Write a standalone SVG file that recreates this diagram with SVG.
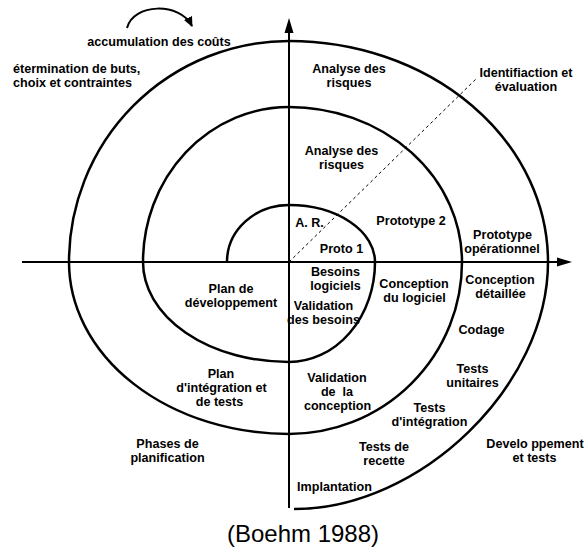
<svg xmlns="http://www.w3.org/2000/svg" width="587" height="549" viewBox="0 0 587 549">
<style>
text{font-family:"Liberation Sans",Arial,sans-serif;font-weight:bold;font-size:12.6px;fill:#000;text-anchor:middle}
.l{text-anchor:start}
.cap{font-weight:normal;font-size:24px}
.ax{stroke:#000;stroke-width:2;fill:none}
.sp{stroke:#000;stroke-width:2.5;fill:none}
.dash{stroke:#000;stroke-width:1;stroke-dasharray:3,3;fill:none}
</style>
<defs>
<marker id="ah" markerWidth="12" markerHeight="12" refX="9" refY="4.5" orient="auto" markerUnits="userSpaceOnUse">
<path d="M0,0 L10,4.5 L0,9 Z" fill="#000"/>
</marker>
</defs>
<rect width="587" height="549" fill="#fff"/>
<g id="connectors">
<line class="ax" x1="22" y1="262" x2="558" y2="262"/>
<polygon points="572,262 557,257.5 557,266.5" fill="#000"/>
<line class="ax" x1="289" y1="32" x2="289" y2="508"/>
<polygon points="289,18 284.5,33 293.5,33" fill="#000"/>
<path class="sp" d="M227,262 A62,57 0 0 1 289,205 A86,57 0 0 1 375,262 A86,100 0 0 1 289,362 A146,100 0 0 1 143,262 A146,155 0 0 1 289,107 A173,155 0 0 1 462,262 A173,172 0 0 1 289,434 A220,172 0 0 1 69,262 A220,221 0 0 1 289,41 A259,221 0 0 1 548,262 C548,385.5 421,509 294,509"/>
<line class="dash" x1="289" y1="262" x2="477" y2="78"/>
<path class="ax" d="M127,28 C133,3 180,2 192,26" marker-end="url(#ah)"/>
</g>
<g id="accumulation"><text x="159" y="46">accumulation des coûts</text></g>
<g id="determination"><text class="l" x="13" y="72.5">étermination de buts,</text><text class="l" x="13" y="86.5">choix et contraintes</text></g>
<g id="analyse-outer"><text x="349" y="72.5">Analyse des</text><text x="349" y="86.5">risques</text></g>
<g id="identification"><text x="526" y="77">Identifiaction et</text><text x="526" y="91">évaluation</text></g>
<g id="analyse-inner"><text x="341.5" y="154.5">Analyse des</text><text x="341.5" y="168.5">risques</text></g>
<g id="ar"><text x="309.5" y="226.5">A. R.</text></g>
<g id="proto1"><text x="341.5" y="252.5">Proto 1</text></g>
<g id="proto2"><text x="411" y="224.5">Prototype 2</text></g>
<g id="proto-op"><text x="502.5" y="239">Prototype</text><text x="502" y="253">opérationnel</text></g>
<g id="besoins"><text x="335.5" y="275.5">Besoins</text><text x="335.5" y="289.5">logiciels</text></g>
<g id="validation-besoins"><text x="323.5" y="309.5">Validation</text><text x="323.5" y="324">des besoins</text></g>
<g id="conception-logiciel"><text x="414" y="287.5">Conception</text><text x="414.5" y="301.5">du logiciel</text></g>
<g id="conception-detaillee"><text x="500" y="284">Conception</text><text x="500.5" y="298">détaillée</text></g>
<g id="codage"><text x="481.5" y="334">Codage</text></g>
<g id="tests-unitaires"><text x="472.5" y="372.5">Tests</text><text x="472.5" y="387">unitaires</text></g>
<g id="tests-integration"><text x="429.5" y="411.5">Tests</text><text x="429.5" y="426">d'intégration</text></g>
<g id="validation-conception"><text x="337" y="381.5">Validation</text><text x="337" y="395.5" xml:space="preserve">de  la</text><text x="337.5" y="410">conception</text></g>
<g id="plan-dev"><text x="231" y="292.5">Plan de</text><text x="231" y="306.5">développement</text></g>
<g id="plan-integration"><text x="221" y="377.5">Plan</text><text x="221.5" y="391.5">d'intégration et</text><text x="219.5" y="405.5">de tests</text></g>
<g id="phases"><text x="167.5" y="447.5">Phases de</text><text x="167.5" y="461.5">planification</text></g>
<g id="tests-recette"><text x="384" y="450.5">Tests de</text><text x="384" y="464.5">recette</text></g>
<g id="implantation"><text x="334.5" y="491">Implantation</text></g>
<g id="developpement"><text x="535" y="447.5">Develo ppement</text><text x="534.5" y="461.5">et tests</text></g>
<g id="caption"><text class="cap" x="303" y="542">(Boehm 1988)</text></g>
</svg>
